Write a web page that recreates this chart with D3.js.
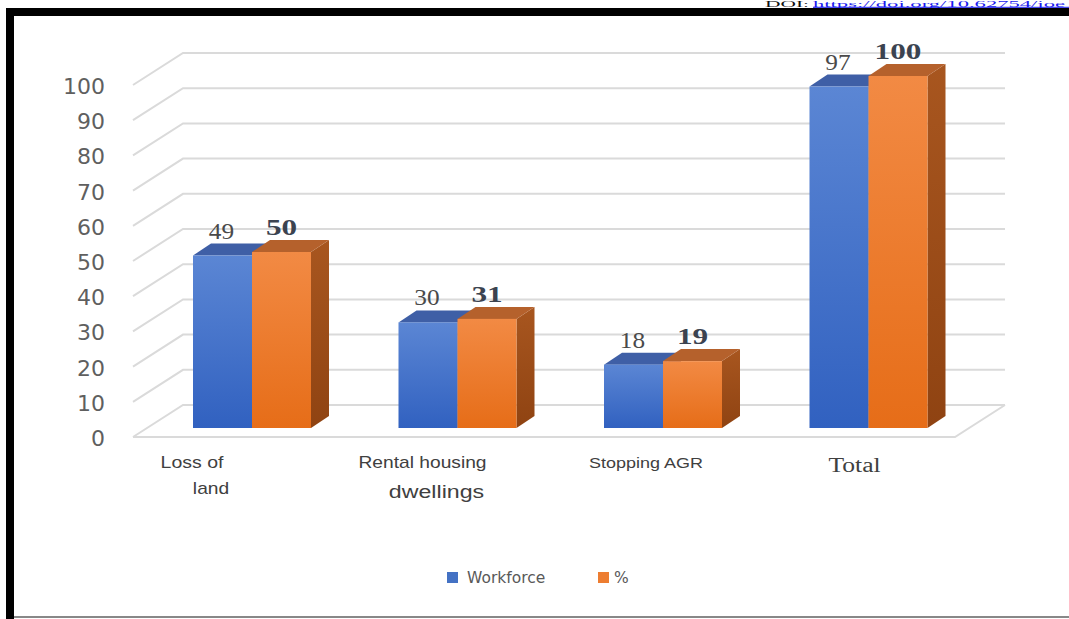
<!DOCTYPE html>
<html>
<head>
<meta charset="utf-8">
<script src="https://cdn.jsdelivr.net/npm/d3@7"></script>
<style>
  html, body { margin: 0; padding: 0; background: #fff; }
  svg { display: block; }
</style>
</head>
<body>
<svg id="chart" width="1069" height="619"></svg>
<script>
// Categories and values
const categories = ["Loss of land", "Rental housing dwellings", "Stopping AGR", "Total"];
const seriesNames = ["Workforce", "%"];
const workforce = [49, 30, 18, 97];
const percent = [50, 31, 19, 100];
const yTicks = [0, 10, 20, 30, 40, 50, 60, 70, 80, 90, 100];
const categoryLabelLines = [["Loss of", "land"], ["Rental housing", "dwellings"], ["Stopping AGR"], ["Total"]];

const svg = d3.select("#chart");
const W = 1069, H = 619;

// Page frame and header line
svg.append("rect").attr("x", 0).attr("y", 0).attr("width", W).attr("height", H).attr("fill", "#fff");
svg.append("text").attr("x", 765).attr("y", 6.5).attr("font-family", "Liberation Serif, serif")
  .attr("font-size", 9).attr("fill", "#111")
  .attr("textLength", 44).attr("lengthAdjust", "spacingAndGlyphs").text("DOI:");
svg.append("text").attr("x", 813).attr("y", 6.5).attr("font-family", "Liberation Serif, serif")
  .attr("font-size", 9).attr("fill", "#1a1aee")
  .attr("textLength", 252).attr("lengthAdjust", "spacingAndGlyphs").text("https://doi.org/10.62754/joe");
svg.append("line").attr("x1", 813).attr("x2", W).attr("y1", 7.3).attr("y2", 7.3)
  .attr("stroke", "#1a1aee").attr("stroke-width", 1);
svg.append("rect").attr("x", 6).attr("y", 8).attr("width", W - 6).attr("height", 8).attr("fill", "#000");
svg.append("rect").attr("x", 6).attr("y", 8).attr("width", 8).attr("height", H - 8).attr("fill", "#000");
svg.append("rect").attr("x", 14).attr("y", 616).attr("width", W - 14).attr("height", 2).attr("fill", "#888");

// Scales: bar plane, with the back wall offset behind it
const y = d3.scaleLinear().domain([0, 100]).range([428, 76]);
const x0 = d3.scaleBand().domain(categories).range([149.25, 971.25]).padding(0);
const barW = 59;
const x1 = d3.scaleBand().domain(seriesNames)
  .range([x0.bandwidth() / 2 - barW, x0.bandwidth() / 2 + barW]).padding(0);

const wallShift = -23;                 // back wall relative to the bar plane
const wallDepth = { dx: -50, dy: 32 }; // front edge relative to back wall
const wallLeft = 183, wallRight = 1005;

// Gridlines on the back wall with slanted left-wall returns
const grid = svg.append("g").attr("stroke", "#dadada").attr("stroke-width", 2).attr("fill", "none");
yTicks.forEach(t => {
  const yb = y(t) + wallShift;
  grid.append("polyline")
    .attr("points", `${wallLeft + wallDepth.dx},${yb + wallDepth.dy} ${wallLeft},${yb} ${wallRight},${yb}`);
});
// Floor front edge
const yFloorBack = y(0) + wallShift;
grid.append("polyline")
  .attr("points", `${wallLeft + wallDepth.dx},${yFloorBack + wallDepth.dy} ${wallRight + wallDepth.dx},${yFloorBack + wallDepth.dy} ${wallRight},${yFloorBack}`);

// Tick labels
svg.append("g").selectAll("text").data(yTicks).join("text")
  .attr("x", 105)
  .attr("y", d => y(d) + wallShift + wallDepth.dy + 9)
  .attr("text-anchor", "end")
  .attr("font-family", "DejaVu Sans, sans-serif")
  .attr("font-size", 22)
  .attr("fill", "#5f5f5f")
  .text(d => d);

// Gradients
const defs = svg.append("defs");
function vgrad(id, stops) {
  const g = defs.append("linearGradient").attr("id", id).attr("x1", 0).attr("y1", 0).attr("x2", 0).attr("y2", 1);
  stops.forEach(([o, c]) => g.append("stop").attr("offset", o).attr("stop-color", c));
}
vgrad("blueFront", [[0, "#5b86d4"], [1, "#3161c0"]]);
vgrad("orangeFront", [[0, "#f28a44"], [1, "#e66d18"]]);
vgrad("orangeSide", [[0, "#a8561f"], [1, "#8f4312"]]);

const depth = { dx: 18, dy: -12 };
const styles = {
  "Workforce": { front: "url(#blueFront)", top: "#3f5fa6", side: "#2d4e95" },
  "%": { front: "url(#orangeFront)", top: "#b5612c", side: "url(#orangeSide)" }
};

const rows = categories.map((c, i) => ({ cat: c, values: [
  { name: "Workforce", v: workforce[i] },
  { name: "%", v: percent[i] }
]}));

const bars = svg.append("g");
rows.forEach(row => {
  const g = bars.append("g").attr("transform", `translate(${x0(row.cat)},0)`);
  row.values.forEach(d => {
    const s = styles[d.name];
    const xl = x1(d.name), xr = xl + x1.bandwidth();
    const yt = y(d.v), yb = y(0);
    // side face
    g.append("polygon").attr("fill", s.side)
      .attr("points", `${xr},${yt} ${xr + depth.dx},${yt + depth.dy} ${xr + depth.dx},${yb + depth.dy} ${xr},${yb}`);
    // top face
    g.append("polygon").attr("fill", s.top)
      .attr("points", `${xl},${yt} ${xl + depth.dx},${yt + depth.dy} ${xr + depth.dx},${yt + depth.dy} ${xr},${yt}`);
    // front face
    g.append("rect").attr("x", xl).attr("y", yt).attr("width", xr - xl).attr("height", yb - yt)
      .attr("fill", s.front);
  });
  // value labels (serif, slightly widened)
  row.values.forEach(d => {
    const bold = d.name === "%";
    const cx = x1(d.name) + x1.bandwidth() / 2 + (bold ? 0 : -1);
    g.append("text")
      .attr("transform", `translate(${cx},${y(d.v) - 17}) scale(${bold ? 1.3 : 1.1},1)`)
      .attr("text-anchor", "middle")
      .attr("font-family", "Liberation Serif, serif")
      .attr("font-size", bold ? 24 : 23)
      .attr("font-weight", bold ? "bold" : "normal")
      .attr("fill", bold ? "#3b4350" : "#4a4a4a")
      .text(d.v);
  });
});

// Category labels
const sans = "Liberation Sans, Arial, sans-serif";
const labelLayout = [
  [{ dx: -60, y: 468, size: 16, sx: 1.22, font: sans }, { dx: -41, y: 494, size: 16, sx: 1.2, font: sans }],
  [{ dx: -35, y: 468, size: 16, sx: 1.2, font: sans }, { dx: -21, y: 498, size: 19, sx: 1.22, font: sans }],
  [{ dx: -17, y: 468, size: 15.5, sx: 1.16, font: sans }],
  [{ dx: -14, y: 472, size: 20, sx: 1.28, font: "Liberation Serif, serif" }]
];
const xlab = svg.append("g");
categories.forEach((c, i) => {
  const cx = x0(c) + x0.bandwidth() / 2;
  categoryLabelLines[i].forEach((line, j) => {
    const L = labelLayout[i][j];
    xlab.append("text")
      .attr("transform", `translate(${cx + L.dx},${L.y}) scale(${L.sx},1)`)
      .attr("text-anchor", "middle")
      .attr("font-family", L.font)
      .attr("font-size", L.size)
      .attr("fill", "#404040")
      .text(line);
  });
});

// Legend
const legend = svg.append("g").attr("transform", "translate(447,572)");
const legendColors = ["#4472c4", "#ed7d31"];
const legendX = [0, 151];
seriesNames.forEach((n, i) => {
  legend.append("rect").attr("x", legendX[i]).attr("y", 0).attr("width", 11).attr("height", 11)
    .attr("fill", legendColors[i]);
  legend.append("text").attr("x", legendX[i] + (i === 0 ? 20 : 16)).attr("y", 10.5)
    .attr("font-family", "DejaVu Sans, sans-serif")
    .attr("font-size", 15.5).attr("fill", "#595959").text(n);
});
</script>
</body>
</html>
